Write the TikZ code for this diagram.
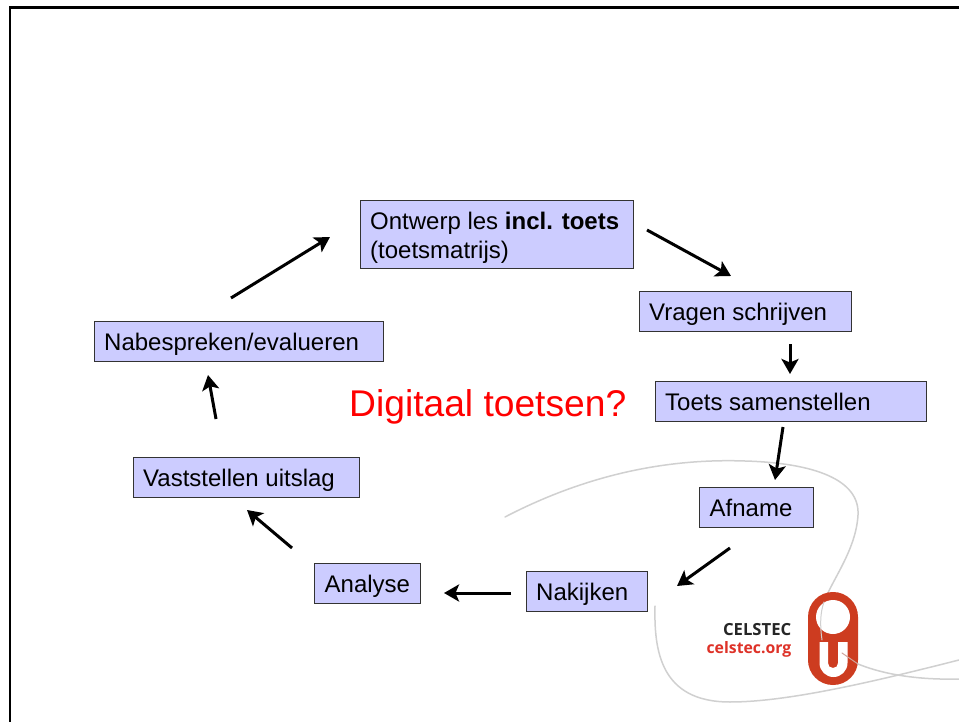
\documentclass[tikz,border=0pt]{standalone}
\usepackage{fontspec}
\setmainfont{Liberation Sans}
\usetikzlibrary{arrows.meta}
\newfontfamily\logofont{Open Sans}
\definecolor{boxfill}{RGB}{204,204,255}
\definecolor{logored}{RGB}{205,60,32}
\definecolor{logotext}{RGB}{222,50,40}
\definecolor{swoosh}{RGB}{208,208,208}
\tikzset{
 x=1pt,y=-1pt,
 stepbox/.style={draw=black!80!white,line width=1pt,fill=boxfill,anchor=north west,inner sep=0pt},
 steptext/.style={anchor=base west,inner sep=0pt,font=\fontsize{24}{28}\selectfont},
 flow/.style={draw=black,line width=3pt,-{Stealth[length=15pt,width=17pt,inset=3.5pt]}},
 curve/.style={draw=swoosh,line width=1.5pt,line cap=round}
}
\newcommand{\boxnode}[6]{\node[stepbox,minimum width=#4pt,minimum height=#5pt] (#1) at (#2,#3) {};\node[steptext] (#1t) at ([xshift=10.5pt,yshift=-9pt]#1.west) {#6};}
\begin{document}
\begin{tikzpicture}
\useasboundingbox (0,0) rectangle (959,722);
\fill[white] (0,0) rectangle (959,722);
% swooshes
\draw[curve] (505,517) .. controls (580,478) and (660,458) .. (745,461)
  .. controls (815,463) and (860,480) .. (858,515)
  .. controls (856,550) and (832,580) .. (824,602);
\draw[curve] (655,606) .. controls (654,650) and (660,702) .. (730,702)
  .. controls (790,702) and (880,680) .. (959,660);
% logo
\fill[logored,rounded corners=24.9pt] (808,592) rectangle (858,685);
\fill[white] (833,617) circle (17);
\fill[white] (819.5,642) -- (828,642) -- (828,663) .. controls (828,666) and (830,668) .. (833,668) .. controls (836,668) and (838,666) .. (838,663) -- (838,642) -- (847.5,642) -- (847.5,663) .. controls (847.5,671) and (841,677) .. (833.5,677) .. controls (826,677) and (819.5,671) .. (819.5,663) -- cycle;
\draw[curve,line width=1pt] (824,602) .. controls (820,613) and (820,626) .. (822,640);
\draw[curve,draw=swoosh!70!logored,line width=1pt] (842,653) -- (858,664);
\draw[curve] (858,664) .. controls (885,675) and (920,680) .. (959,679);
\node[anchor=base east,inner sep=0pt,font=\logofont\bfseries\fontsize{16.7}{20}\selectfont,text=black!85] (logoa) at (791.5,635.5) {CELSTEC};
\node[anchor=base east,inner sep=0pt,font=\logofont\bfseries\fontsize{15.8}{19}\selectfont,text=logotext] (logob) at (791.5,653.5) {celstec.org};
% frame
\draw[black,line width=2.6pt] (10,722) -- (10,7.5) -- (959,7.5);
% boxes
\node[stepbox,minimum width=273pt,minimum height=68.5pt] (ontwerp) at (359.5,200) {};
\node[steptext] (ontwerpt) at (370,229.3) {\begin{tabular}[t]{@{}l@{}}Ontwerp les \textbf{incl. toets}\\[1pt](toetsmatrijs)\end{tabular}};
\boxnode{vragen}{638.5}{291}{212.5}{40}{Vragen schrijven}
\boxnode{samen}{654.5}{381}{271.5}{40}{Toets samenstellen}
\boxnode{afname}{699}{487}{114}{40}{Afname}
\boxnode{nakijken}{525.5}{571}{121.5}{40}{Nakijken}
\boxnode{analyse}{314}{563}{106}{40}{Analyse}
\boxnode{vast}{132.5}{457}{226.5}{40}{Vaststellen uitslag}
\boxnode{nabe}{93.5}{321}{289.5}{40}{Nabespreken/evalueren}
\node[anchor=base west,inner sep=0pt,text=red,font=\fontsize{37.2}{44}\selectfont] (vraag) at (349,416) {Digitaal toetsen?};
% arrows
\coordinate (a1s) at (647,230); \coordinate (a1e) at (731,276);
\coordinate (a2s) at (790,344); \coordinate (a2e) at (790,374);
\coordinate (a3s) at (783,427); \coordinate (a3e) at (775,480);
\coordinate (a4s) at (730,548); \coordinate (a4e) at (677,586);
\coordinate (a5s) at (511,593); \coordinate (a5e) at (444,593);
\coordinate (a6s) at (292,548); \coordinate (a6e) at (247,510);
\coordinate (a7s) at (216,419); \coordinate (a7e) at (208,375);
\coordinate (a8s) at (231,298); \coordinate (a8e) at (330,237);
\foreach \i in {1,...,8} \draw[flow] (a\i s) -- (a\i e);
\end{tikzpicture}
\end{document}
